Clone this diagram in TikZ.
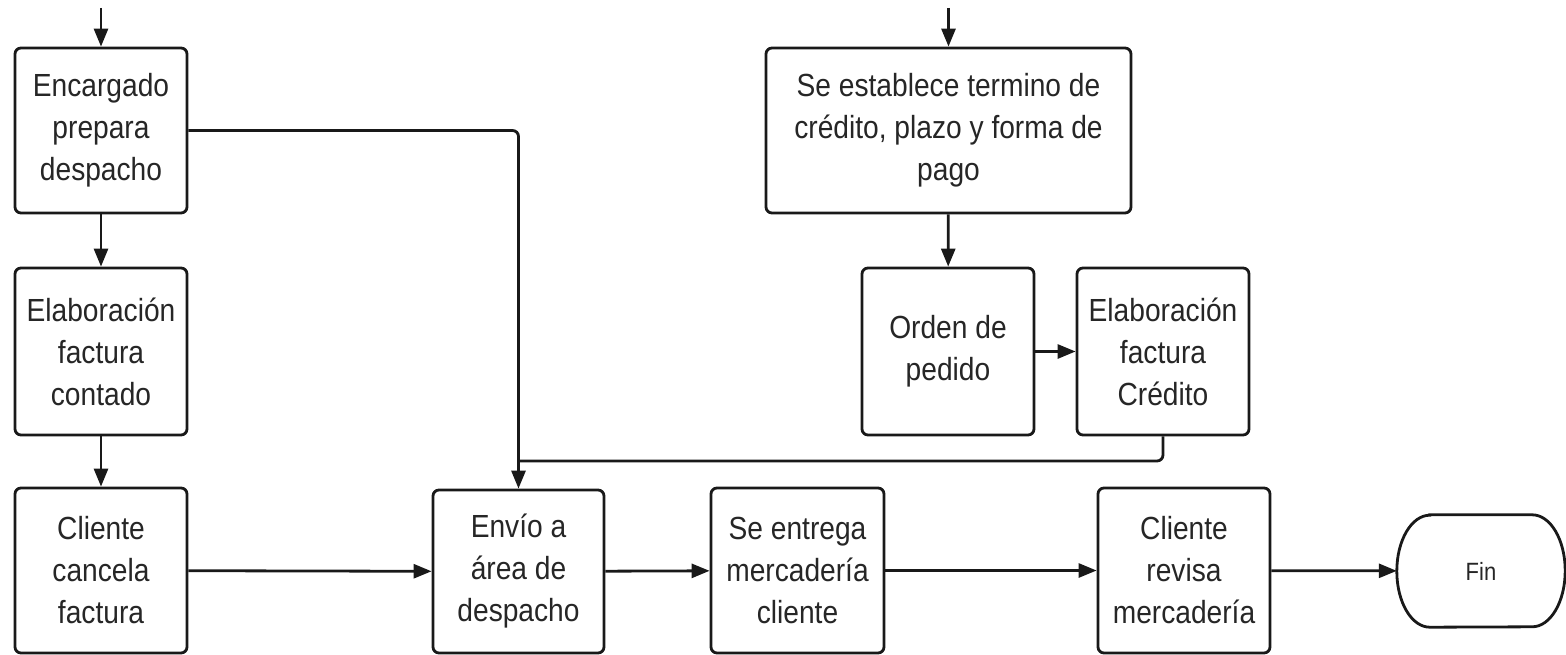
\documentclass[tikz,border=0pt]{standalone}
\usepackage{fontspec}
\setmainfont{Liberation Sans}[FakeStretch=0.88]
\usetikzlibrary{arrows.meta}
\begin{document}
\begin{tikzpicture}[x=1pt,y=-1pt,
  box/.style={draw=black!90, line width=2.8pt, rounded corners=6pt, align=center,
    font=\fontsize{32}{42}\selectfont, text=black!85, inner sep=0pt},
  conn/.style={draw=black!90, line width=2.8pt},
  arr/.style={conn, -{Triangle[length=18pt,width=14pt]}}]
\useasboundingbox (0,0) rectangle (1566,655);
\node[box, minimum width=172pt, minimum height=165pt] (A) at (101,130.5) {Encargado\\prepara\\despacho};
\node[box, minimum width=172pt, minimum height=167pt] (B) at (101,351.5) {Elaboración\\factura\\contado};
\node[box, minimum width=172pt, minimum height=165pt] (C) at (101,570.5) {Cliente\\cancela\\factura};
\node[box, minimum width=171pt, minimum height=163pt] (D) at (518.5,571.5) {Envío a\\área de\\despacho};
\node[box, minimum width=173pt, minimum height=165pt] (E) at (797.5,570.5) {Se entrega\\mercadería\\cliente};
\node[box, minimum width=172pt, minimum height=165pt] (F) at (1184,570.5) {Cliente\\revisa\\mercadería};
\node[box, minimum width=365pt, minimum height=165pt] (G) at (948.5,130.5) {Se establece termino de\\crédito, plazo y forma de\\pago};
\node[box, minimum width=172pt, minimum height=167pt] (H) at (948,351.5) {Orden de\\pedido};
\node[box, minimum width=172pt, minimum height=167pt] (I) at (1163,351.5) {Elaboración\\factura\\Crédito};
\node[minimum width=168pt, minimum height=112pt, inner sep=0pt, font=\fontsize{25}{30}\selectfont, text=black!85] (Fin) at (1481,571) {Fin};
\draw[conn] ([xshift=33pt]Fin.north west) -- ([xshift=-33pt]Fin.north east)
  arc[start angle=90,end angle=-90,x radius=33pt,y radius=56pt]
  -- ([xshift=33pt]Fin.south west)
  arc[start angle=270,end angle=90,x radius=33pt,y radius=56pt] -- cycle;
\coordinate (topA) at (101,8);
\coordinate (topG) at (948.5,8);
\coordinate (J) at (518.5,461);
\draw[arr] (topA) -- (A.north);
\draw[arr] (topG) -- (G.north);
\draw[arr] (A) -- (B);
\draw[arr] (B) -- (C);
\draw[arr] (G) -- (H);
\draw[arr] (H) -- (I);
\draw[arr] (C) -- (D);
\draw[arr] (D) -- (E);
\draw[arr] (E) -- (F);
\draw[arr] (F) -- (Fin);
\draw[arr, rounded corners=6pt] (A.east) -| (D.north);
\draw[conn, rounded corners=6pt] (I.south) |- (J);
\end{tikzpicture}
\end{document}
